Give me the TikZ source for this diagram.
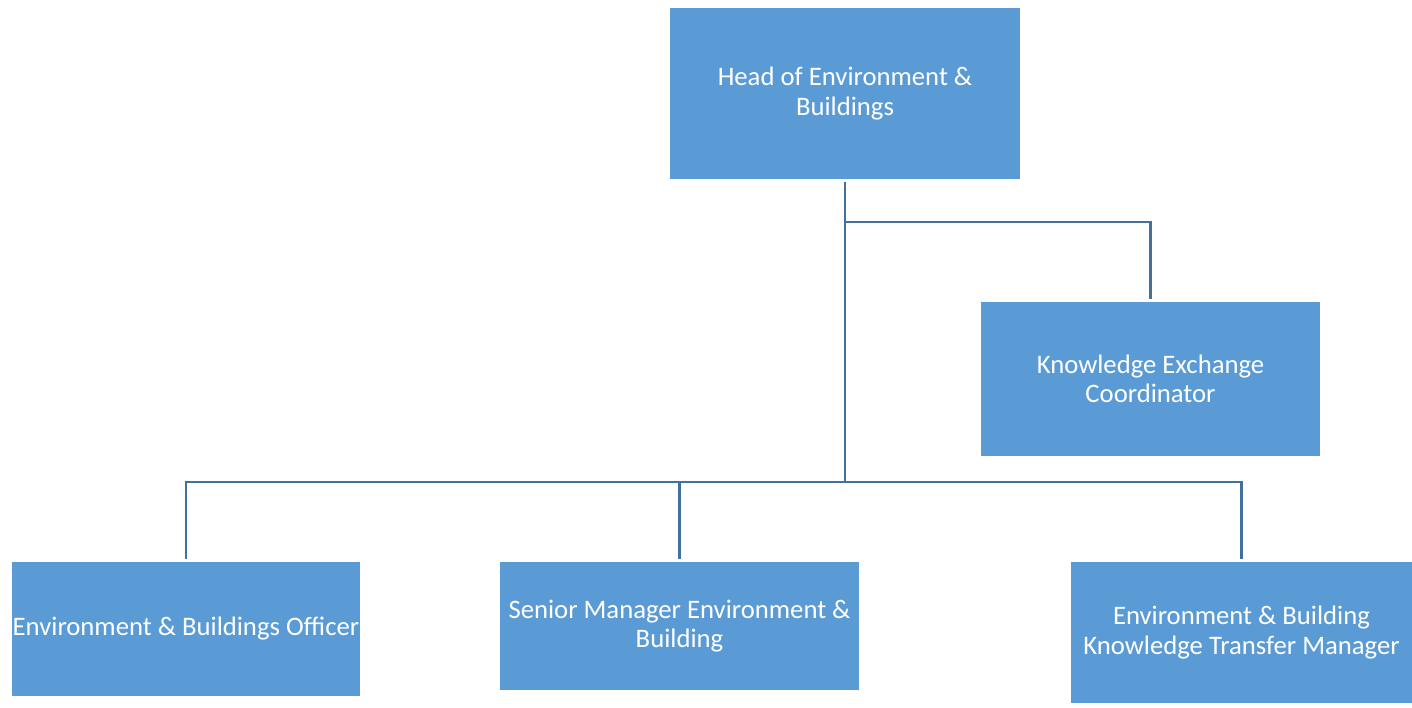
\documentclass[tikz,border=0pt]{standalone}
\usepackage{fontspec}
\setmainfont{Carlito}
\definecolor{boxblue}{HTML}{5B9BD5}
\definecolor{lineblue}{HTML}{41719C}
\begin{document}
\begin{tikzpicture}[x=1pt,y=1pt,
  role/.style={fill=boxblue,draw=none,text=white,inner sep=0pt,align=center,
    font=\fontsize{26.7}{29.5}\selectfont},
  conn/.style={draw=lineblue,line width=2.8pt}]
\useasboundingbox (0,0) rectangle (1412,-707);
\node[role,minimum width=350,minimum height=171] (head) at (845,-93.5) {Head of Environment \&\\Buildings};
\node[role,minimum width=339,minimum height=154] (kec) at (1150.5,-379) {Knowledge Exchange\\Coordinator};
\node[role,minimum width=348,minimum height=134] (ebo) at (186,-629) {Environment \& Buildings Officer};
\node[role,minimum width=359,minimum height=128] (sm) at (679.5,-626) {Senior Manager Environment \&\\Building};
\node[role,minimum width=341,minimum height=141] (kt) at (1241.5,-632.5) {Environment \& Building\\Knowledge Transfer Manager};
\coordinate (j1) at (845,-222);
\coordinate (j2) at (845,-482);
\draw[conn,shorten <=3pt] (head.south) -- (j2);
\draw[conn,shorten >=3pt] (j1) -| (kec.north);
\draw[conn,shorten >=3pt] (j2) -| (ebo.north);
\draw[conn,shorten >=3pt] (j2) -| (sm.north);
\draw[conn,shorten >=3pt] (j2) -| (kt.north);
\end{tikzpicture}
\end{document}
